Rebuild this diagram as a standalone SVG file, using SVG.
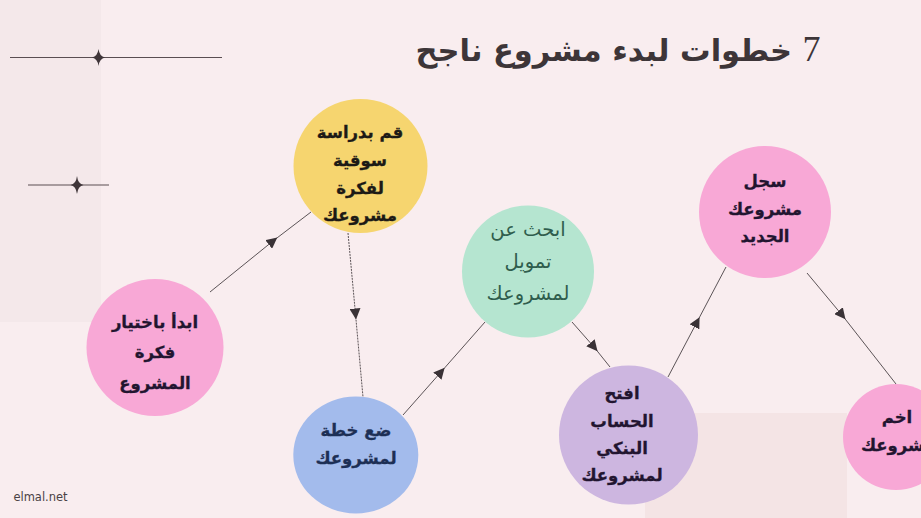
<svg xmlns="http://www.w3.org/2000/svg" width="921" height="518" viewBox="0 0 921 518">
<style>
text{font-family:"DejaVu Sans","Noto Sans",sans-serif;text-anchor:middle;direction:rtl}
.b{font-weight:700;font-size:16.500px;fill:#221530;stroke:#221530;stroke-width:.3px}
.g{font-size:19.500px;fill:#2f5d4d}
.c{fill:none;stroke:#4a4245;stroke-width:.9;marker-mid:url(#a)}
.d{stroke-dasharray:2 1}
.r{stroke:#5a4e52;stroke-width:1.200}
.s{fill:#3f3539}
</style>
<defs><marker id="a" markerUnits="userSpaceOnUse" markerWidth="11" markerHeight="11" refX="5" refY="5" orient="auto" viewBox="0 0 10 10"><path d="M0 0L10 5L0 10Z" fill="#3a3236"/></marker></defs>
<rect width="921" height="518" fill="#f9edef"/>
<rect width="101" height="322" fill="#f4e8ea"/>
<rect x="645" y="413" width="202" height="105" fill="#f4e4e5"/>
<g id="decor">
<line class="r" x1="10" y1="57.500" x2="222" y2="57.500"/>
<path class="s" d="M98.500 49Q99.500 56.500 105 57.500Q99.500 58.500 98.500 66Q97.500 58.500 92 57.500Q97.500 56.500 98.500 49Z"/>
<line class="r" x1="28" y1="185" x2="109" y2="185"/>
<path class="s" d="M77 176Q78 184 83.500 185Q78 186 77 194Q76 186 70.500 185Q76 184 77 176Z"/>
</g>
<text id="title" x="618" y="61" font-size="30.500" font-weight="700" fill="#3d3538"><tspan style="font-family:'Liberation Serif',serif;font-weight:400;font-size:36px">7</tspan> خطوات لبدء مشروع ناجح</text>
<g id="connectors">
<path class="c" d="M210 292L273 241L311 212"/>
<path class="c d" d="M348 233L355.500 314L363 397"/>
<path class="c" d="M403 415L441 372L485 322"/>
<path class="c" d="M572 322L594 347L610 367"/>
<path class="c" d="M668 377L697 322L726 267"/>
<path class="c" d="M807 273L842 315L896 384"/>
</g>
<g id="n1"><circle cx="155" cy="347.500" r="68.500" fill="#f8a8d6"/>
<text class="b" x="155" y="328">ابدأ باختيار</text><text class="b" x="155" y="358">فكرة</text><text class="b" x="155" y="389">المشروع</text></g>
<g id="n2"><circle cx="360.500" cy="166" r="67" fill="#f6d56f"/>
<text class="b" style="fill:#1d1a16;stroke:#1d1a16" x="360" y="138">قم بدراسة</text><text class="b" style="fill:#1d1a16;stroke:#1d1a16" x="360" y="166">سوقية</text><text class="b" style="fill:#1d1a16;stroke:#1d1a16" x="360" y="194">لفكرة</text><text class="b" style="fill:#1d1a16;stroke:#1d1a16" x="360" y="221">مشروعك</text></g>
<g id="n3"><ellipse cx="355.800" cy="455" rx="62.500" ry="58.500" fill="#a3bbec"/>
<text class="b" style="fill:#1d2f55;stroke:#1d2f55" x="356" y="436">ضع خطة</text><text class="b" style="fill:#1d2f55;stroke:#1d2f55" x="356" y="464">لمشروعك</text></g>
<g id="n4"><circle cx="528" cy="271.500" r="66" fill="#b5e5d0"/>
<text class="g" x="528" y="236">ابحث عن</text><text class="g" x="528" y="268">تمويل</text><text class="g" x="528" y="300">لمشروعك</text></g>
<g id="n5"><circle cx="628.500" cy="435" r="69.500" fill="#cdb6e0"/>
<text class="b" x="622" y="399">افتح</text><text class="b" x="622" y="427">الحساب</text><text class="b" x="622" y="454">البنكي</text><text class="b" x="622" y="481">لمشروعك</text></g>
<g id="n6"><circle cx="765" cy="212" r="66" fill="#f8a8d6"/>
<text class="b" x="765" y="187">سجل</text><text class="b" x="765" y="215">مشروعك</text><text class="b" x="765" y="242">الجديد</text></g>
<g id="n7"><circle cx="896" cy="437" r="53" fill="#f8a8d6"/>
<text class="b" x="897" y="423">اخم</text><text class="b" x="898" y="451">مشروعك</text></g>
<text id="credit" x="40.500" y="501" font-size="11.500" style="direction:ltr" fill="#4a4245">elmal.net</text>
</svg>
